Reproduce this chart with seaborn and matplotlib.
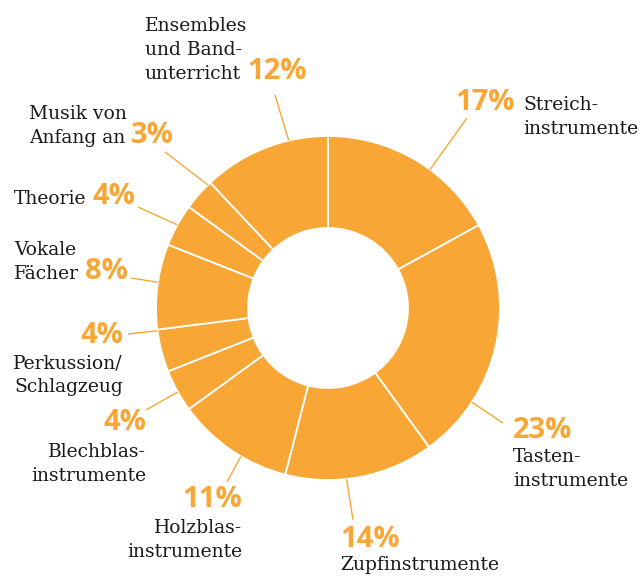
import numpy as np
import matplotlib
matplotlib.use("Agg")
import matplotlib.pyplot as plt
from matplotlib import font_manager as fm
import seaborn as sns

# ---- data ----
categories = ["Streich-\ninstrumente", "Tasten-\ninstrumente", "Zupfinstrumente",
              "Holzblas-\ninstrumente", "Blechblas-\ninstrumente", "Perkussion/\nSchlagzeug",
              "Vokale\nFächer", "Theorie", "Musik von\nAnfang an",
              "Ensembles\nund Band-\nunterricht"]
values = [17, 23, 14, 11, 4, 4, 8, 4, 3, 12]
pct_labels = [f"{v}%" for v in values]

# ---- style / layout ----
ORANGE = "#F8A736"
TEXT = "#1a1a1a"
W, H = 643, 576
CX, CY, R, RING = 328, 308, 172, 92
SERIF = ["DejaVu Serif"]
FS_LABEL = 13.5
FS_PCT = 21
LS = 24

def pick_bold(cands):
    for fam in cands:
        for f in fm.fontManager.ttflist:
            w = f.weight if isinstance(f.weight, int) else 700 if "bold" in str(f.weight).lower() else 400
            if f.name == fam and w >= 600 and f.style == "normal":
                return fam
    return "DejaVu Sans"

SANS = [pick_bold(["Noto Sans", "Open Sans", "Lato", "Roboto", "Inter"]), "DejaVu Sans"]

# per label: text x, first baseline y, ha, percent position (None=inline), leader angle (deg cw from top), leader end
layout = [
    dict(x=523, y=110, ha="left", pct=(455, 110, "left"), ang=36.4, end=(467, 118)),
    dict(x=513, y=462, ha="left", pct=(513, 438, "left"), ang=123.2, end=(503, 423)),
    dict(x=340, y=570, ha="left", pct=(340, 547, "left"), ang=173.8, end=(353, 520)),
    dict(x=242, y=533, ha="right", pct=(242, 507, "right"), ang=210.4, end=(227, 482)),
    dict(x=146, y=457, ha="right", pct=(146, 430, "right"), ang=240.8, end=(146, 410)),
    dict(x=123, y=368, ha="right", pct=(123, 343, "right"), ang=262.4, end=(128, 334)),
    dict(x=14, y=255, ha="left", pct=None, ang=278.6, end=(131, 278)),
    dict(x=14, y=204, ha="left", pct=None, ang=298.9, end=(138, 207)),
    dict(x=29, y=119, ha="left", pct=None, ang=315.7, end=(165, 152)),
    dict(x=145, y=31, ha="left", pct=None, ang=346.8, end=(275, 95)),
]

sns.set_theme(style="white")
plt.rcParams["font.family"] = ["DejaVu Serif", "DejaVu Sans"]

fig = plt.figure(figsize=(W / 100, H / 100), dpi=100)
fig.patch.set_facecolor("white")
ax = fig.add_axes([0, 0, 1, 1])

def Y(y):
    return H - y

ax.pie(values, radius=R, center=(CX, Y(CY)), startangle=90, counterclock=False,
       colors=[ORANGE] * len(values),
       wedgeprops=dict(width=RING, edgecolor="white", linewidth=1.3))
ax.set_xlim(0, W)
ax.set_ylim(0, H)
ax.set_aspect("equal")
ax.axis("off")

renderer = fig.canvas.get_renderer()

for cat, pct, lay in zip(categories, pct_labels, layout):
    lines = cat.split("\n")
    last = None
    for i, line in enumerate(lines):
        last = ax.text(lay["x"], Y(lay["y"] + i * LS), line, ha=lay["ha"], va="baseline",
                       fontsize=FS_LABEL, family=SERIF, color=TEXT)
    if lay["pct"] is None:
        bb = last.get_window_extent(renderer=renderer)
        xr = bb.x1 + 6
        ax.text(xr, Y(lay["y"] + (len(lines) - 1) * LS), pct, ha="left", va="baseline",
                fontsize=FS_PCT, family=SANS, fontweight="bold", color=ORANGE)
    else:
        px, py, pha = lay["pct"]
        ax.text(px, Y(py), pct, ha=pha, va="baseline",
                fontsize=FS_PCT, family=SANS, fontweight="bold", color=ORANGE)
    a = np.deg2rad(lay["ang"])
    sx, sy = CX + R * np.sin(a), CY - R * np.cos(a)
    ex, ey = lay["end"]
    ax.plot([sx, ex], [Y(sy), Y(ey)], color=ORANGE, lw=1, solid_capstyle="butt")

fig.savefig("out.png", dpi=100, facecolor="white")
